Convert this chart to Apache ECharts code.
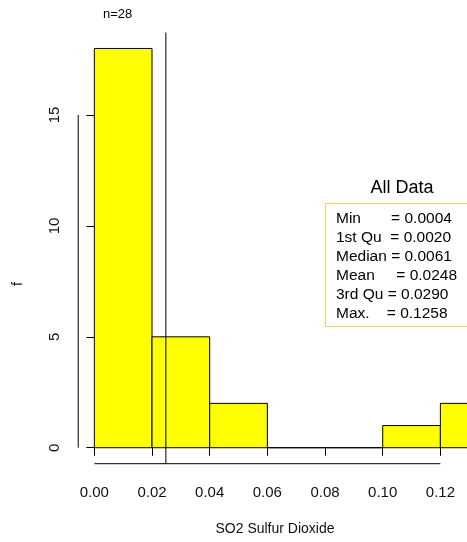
<!DOCTYPE html>
<html>
<head>
<meta charset="utf-8">
<script src="https://cdn.jsdelivr.net/npm/echarts@6/dist/echarts.min.js"></script>
<style>html,body{margin:0;padding:0;background:#fff;}#c{width:467px;height:542px;}</style>
</head>
<body>
<div id="c"></div>
<script>
// data
var binStarts = [0.00, 0.02, 0.04, 0.06, 0.08, 0.10, 0.12];
var binEnds   = [0.02, 0.04, 0.06, 0.08, 0.10, 0.12, 0.14];
var counts    = [18, 5, 2, 0, 0, 1, 2];
var meanValue = 0.0248;
var xTicks = [0.00, 0.02, 0.04, 0.06, 0.08, 0.10, 0.12];
var yTicks = [0, 5, 10, 15];
var statLines = [
  "Min       = 0.0004",
  "1st Qu  = 0.0020",
  "Median = 0.0061",
  "Mean     = 0.0248",
  "3rd Qu = 0.0290",
  "Max.    = 0.1258"
];
var nLabel = "n=28";
var xTitle = "SO2 Sulfur Dioxide";
var yTitle = "f";
var boxTitle = "All Data";

var xMin = -0.0056, xMax = 0.1456;
var yMin = -0.72, yMax = 18.72;
var FONT = "Liberation Sans, Arial, sans-serif";

var barData = binStarts.map(function(s, i){ return [s, binEnds[i], counts[i]]; });

var chart = echarts.init(document.getElementById('c'), null, {renderer:'canvas'});
var statGraphics = statLines.map(function(t, i){
  return {type:'text', left:336, top:211 + i*18.9, silent:true,
    style:{text:t, font:'15.5px ' + FONT, fill:'#000', textBaseline:'top'}};
});
chart.setOption({
  animation:false,
  backgroundColor:'#fff',
  grid:{left:78.2, top:32.5, width:436, height:431.2, containLabel:false, outerBoundsMode:'none'},
  xAxis:{type:'value', min:xMin, max:xMax,
    axisLine:{show:false}, splitLine:{show:false},
    axisTick:{show:true, customValues:xTicks, length:8, lineStyle:{color:'#000', width:1}},
    axisLabel:{show:true, customValues:xTicks, margin:22, color:'#111', fontSize:15, fontFamily:FONT,
      formatter:function(v){ return v.toFixed(2); }}
  },
  yAxis:{type:'value', min:yMin, max:yMax,
    axisLine:{show:false}, splitLine:{show:false},
    axisTick:{show:true, customValues:yTicks, length:8, lineStyle:{color:'#000', width:1}},
    axisLabel:{show:true, customValues:yTicks, rotate:90, margin:16, color:'#111', fontSize:15, fontFamily:FONT}
  },
  series:[
    {type:'custom', data:barData, clip:false, silent:true,
      renderItem:function(params, api){
        var p0 = api.coord([api.value(0), api.value(2)]);
        var p1 = api.coord([api.value(1), 0]);
        return {type:'rect', shape:{x:p0[0], y:p0[1], width:p1[0]-p0[0], height:p1[1]-p0[1]},
          style:{fill:'#ffff00', stroke:'#000', lineWidth:1}};
      }
    },
    {type:'line', data:[[xTicks[0], yMin],[xTicks[xTicks.length-1], yMin]], symbol:'none', clip:false, silent:true,
      lineStyle:{color:'#000', width:1}},
    {type:'line', data:[[xMin, yTicks[0]],[xMin, yTicks[yTicks.length-1]]], symbol:'none', clip:false, silent:true,
      lineStyle:{color:'#000', width:1}},
    {type:'line', data:[[meanValue, yMin],[meanValue, yMax]], symbol:'none', clip:false, silent:true,
      lineStyle:{color:'#000', width:1}}
  ],
  graphic:[
    {type:'text', left:103, top:8, silent:true, style:{text:nLabel, font:'13px ' + FONT, fill:'#000'}},
    {type:'text', x:275, y:529, silent:true, style:{text:xTitle, font:'14px ' + FONT, fill:'#111', align:'center', verticalAlign:'middle'}},
    {type:'text', x:18, y:284, rotation:Math.PI/2, silent:true, style:{text:yTitle, font:'14px ' + FONT, fill:'#111', align:'center', verticalAlign:'middle'}},
    {type:'text', x:402, y:188, silent:true, style:{text:boxTitle, font:'18px ' + FONT, fill:'#000', align:'center', verticalAlign:'middle'}},
    {type:'rect', shape:{x:325.5, y:203.5, width:160, height:123}, silent:true, style:{fill:'#fff', stroke:'#f5d24a', lineWidth:1}}
  ].concat(statGraphics)
});
</script>
</body>
</html>
